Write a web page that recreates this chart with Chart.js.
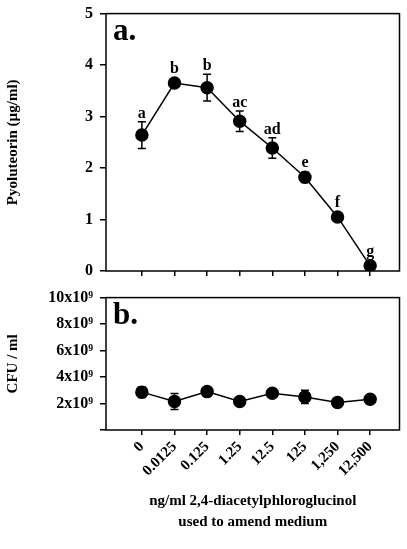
<!DOCTYPE html>
<html>
<head>
<meta charset="utf-8">
<script src="https://cdn.jsdelivr.net/npm/chart.js@4"></script>
<style>
  html, body { margin: 0; padding: 0; background: #fff; }
  #wrap { position: relative; width: 407px; height: 549px; overflow: hidden; }
  .box { position: absolute; left: 0; width: 407px; }
</style>
</head>
<body>
<div id="wrap">
  <div class="box" style="top:-3px;height:293px"><canvas id="topChart"></canvas></div>
  <div class="box" style="top:281px;height:268px"><canvas id="bottomChart"></canvas></div>
</div>
<script>
const doses = ["0", "0.0125", "0.125", "1.25", "12.5", "125", "1,250", "12,500"];

const pyoluteorin = [2.64, 3.65, 3.56, 2.91, 2.39, 1.82, 1.05, 0.10];
const pyoluteorinErr = [0.26, 0.03, 0.26, 0.20, 0.20, 0.10, 0.03, 0.03];
const letters = ["a", "b", "b", "ac", "ad", "e", "f", "g"];

const cfu = [2.86e9, 2.15e9, 2.9e9, 2.15e9, 2.77e9, 2.5e9, 2.07e9, 2.32e9];
const cfuErr = [0.4e9, 0.6e9, 0.05e9, 0.05e9, 0.1e9, 0.5e9, 0.05e9, 0.05e9];

const serif = "'Liberation Serif', 'Times New Roman', serif";
Chart.defaults.font.family = serif;
Chart.defaults.color = "#000";

const frame = {
  id: "frame",
  afterDatasetsDraw(chart, args, opts) {
    const { ctx, chartArea: a, scales } = chart;
    ctx.save();
    // error bars
    ctx.strokeStyle = "#000";
    ctx.lineWidth = 1.5;
    opts.values.forEach((v, i) => {
      const x = scales.x.getPixelForValue(i);
      const yt = scales.y.getPixelForValue(v + opts.errors[i]);
      const yb = scales.y.getPixelForValue(v - opts.errors[i]);
      ctx.beginPath();
      ctx.moveTo(x, yt); ctx.lineTo(x, yb);
      ctx.moveTo(x - 4, yt); ctx.lineTo(x + 4, yt);
      ctx.moveTo(x - 4, yb); ctx.lineTo(x + 4, yb);
      ctx.stroke();
    });
    // letters above
    if (opts.letters) {
      ctx.fillStyle = "#000";
      ctx.font = "bold 16px " + serif;
      ctx.textAlign = "center";
      ctx.textBaseline = "alphabetic";
      opts.letters.forEach((t, i) => {
        const x = scales.x.getPixelForValue(i);
        const top = Math.min(scales.y.getPixelForValue(opts.values[i] + opts.errors[i]),
                             scales.y.getPixelForValue(opts.values[i]) - 6);
        ctx.fillText(t, x, top - 4);
      });
    }
    // box
    ctx.lineWidth = 1.5;
    ctx.strokeRect(a.left, a.top, a.right - a.left, a.bottom - a.top);
    // panel letter
    ctx.font = "bold 31px " + serif;
    ctx.textAlign = "left";
    ctx.fillText(opts.panel, a.left + 7, a.top + 26);
    ctx.restore();
  }
};

function xScale(showLabels, height) {
  return {
    type: "linear",
    min: -1.1,
    max: 7.9,
    afterBuildTicks: axis => {
      axis.ticks = doses.map((_, i) => ({ value: i }));
    },
    afterFit: scale => { scale.height = height; },
    border: { display: false },
    grid: { drawOnChartArea: false, tickLength: 5, color: "#000", lineWidth: 1.5 },
    ticks: {
      display: showLabels,
      padding: 3,
      autoSkip: false,
      minRotation: 45,
      maxRotation: 45,
      font: { size: 15, weight: "bold" },
      callback: v => doses[v]
    },
    title: showLabels ? {
      display: true,
      text: ["ng/ml 2,4-diacetylphloroglucinol", "used to amend medium"],
      font: { size: 15, weight: "bold", lineHeight: 1.4 },
      padding: 0
    } : { display: false }
  };
}

new Chart(document.getElementById("topChart"), {
  type: "line",
  data: {
    datasets: [{
      data: pyoluteorin.map((v, i) => ({ x: i, y: v })),
      borderColor: "#000",
      borderWidth: 1.5,
      pointRadius: 6,
      pointBackgroundColor: "#000",
      pointBorderColor: "#000",
      tension: 0
    }]
  },
  options: {
    responsive: true,
    maintainAspectRatio: false,
    animation: false,
    layout: { padding: { top: 1, right: 7, bottom: 0, left: 0 } },
    plugins: {
      legend: { display: false },
      tooltip: { enabled: false },
      frame: { values: pyoluteorin, errors: pyoluteorinErr, letters: letters, panel: "a." }
    },
    scales: {
      x: xScale(false, 19),
      y: {
        min: 0,
        max: 5,
        afterFit: scale => { scale.width = 106; },
        border: { display: false },
        grid: { drawOnChartArea: false, tickLength: 6, color: "#000", lineWidth: 1.5 },
        ticks: { stepSize: 1, padding: 7, font: { size: 16, weight: "bold" } },
        title: { display: true, text: "Pyoluteorin (µg/ml)", font: { size: 15, weight: "bold" } }
      }
    }
  },
  plugins: [frame]
});

new Chart(document.getElementById("bottomChart"), {
  type: "line",
  data: {
    datasets: [{
      data: cfu.map((v, i) => ({ x: i, y: v })),
      borderColor: "#000",
      borderWidth: 1.5,
      pointRadius: 6,
      pointBackgroundColor: "#000",
      pointBorderColor: "#000",
      tension: 0
    }]
  },
  options: {
    responsive: true,
    maintainAspectRatio: false,
    animation: false,
    layout: { padding: { top: 0, right: 7, bottom: 16, left: 0 } },
    plugins: {
      legend: { display: false },
      tooltip: { enabled: false },
      frame: { values: cfu, errors: cfuErr, panel: "b." }
    },
    scales: {
      x: xScale(true, 103),
      y: {
        min: 0,
        max: 10e9,
        afterFit: scale => { scale.width = 106; },
        border: { display: false },
        grid: { drawOnChartArea: false, tickLength: 6, color: "#000", lineWidth: 1.5 },
        ticks: {
          stepSize: 2e9,
          padding: 7,
          font: { size: 16, weight: "bold" },
          callback: v => v === 0 ? "" : (v / 1e9) + "x10⁹"
        },
        title: { display: true, text: "CFU / ml", font: { size: 15, weight: "bold" } }
      }
    }
  },
  plugins: [frame]
});
</script>
</body>
</html>
